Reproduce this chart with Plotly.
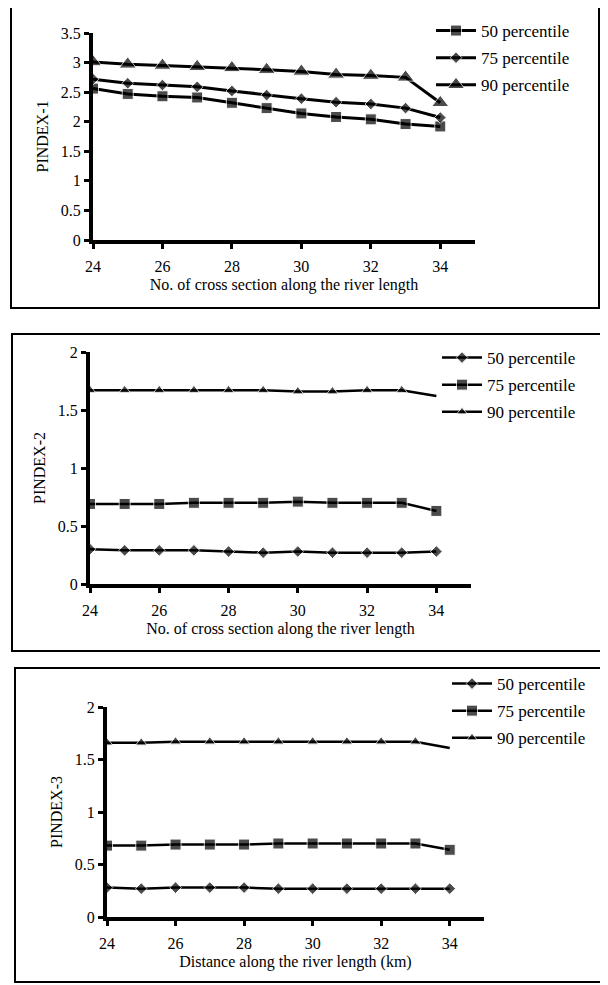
import plotly.graph_objects as go

x_sections = [24, 25, 26, 27, 28, 29, 30, 31, 32, 33, 34]
series_names = ["50 percentile", "75 percentile", "90 percentile"]

# Panel 1 : PINDEX-1
p1_50 = [2.56, 2.47, 2.43, 2.41, 2.32, 2.23, 2.14, 2.08, 2.04, 1.96, 1.92]
p1_75 = [2.72, 2.65, 2.62, 2.59, 2.52, 2.45, 2.39, 2.33, 2.30, 2.23, 2.07]
p1_90 = [3.01, 2.97, 2.95, 2.93, 2.91, 2.88, 2.85, 2.80, 2.78, 2.75, 2.32]

# Panel 2 : PINDEX-2
p2_50 = [0.30, 0.29, 0.29, 0.29, 0.28, 0.27, 0.28, 0.27, 0.27, 0.27, 0.28]
p2_75 = [0.69, 0.69, 0.69, 0.70, 0.70, 0.70, 0.71, 0.70, 0.70, 0.70, 0.63]
p2_90 = [1.67, 1.67, 1.67, 1.67, 1.67, 1.67, 1.66, 1.66, 1.67, 1.67, 1.62]

# Panel 3 : PINDEX-3
p3_50 = [0.28, 0.27, 0.28, 0.28, 0.28, 0.27, 0.27, 0.27, 0.27, 0.27, 0.27]
p3_75 = [0.68, 0.68, 0.69, 0.69, 0.69, 0.70, 0.70, 0.70, 0.70, 0.70, 0.64]
p3_90 = [1.66, 1.66, 1.67, 1.67, 1.67, 1.67, 1.67, 1.67, 1.67, 1.67, 1.61]

y_titles = ["PINDEX-1", "PINDEX-2", "PINDEX-3"]
x_titles = ["No. of cross section along the river length",
            "No. of cross section along the river length",
            "Distance along the river length (km)"]

W, H = 608, 985
OFF = 8  # default page body margin
FONT = "Liberation Serif, Times New Roman, serif"

def px(v):
    return (v - OFF) / W

def py(v):
    return 1 - (v - OFF) / H

fig = go.Figure()

# panel geometry in page pixels
panels = [
    dict(x0=93, x1=475, ytop=33, ybot=240, ymax=3.5, box=(11, 5, 599, 308),
         leg=(431, 13)),
    dict(x0=90, x1=471, ytop=352, ybot=584, ymax=2.0, box=(12, 334, 604, 651),
         leg=(437, 340)),
    dict(x0=107, x1=484, ytop=707, ybot=917, ymax=2.0, box=(15, 668, 604, 982),
         leg=(447, 666)),
]

data = [
    [(p1_50, "square", 11, 3), (p1_75, "diamond", 9, 3), (p1_90, "triangle-up", 15, 3)],
    [(p2_50, "diamond", 9, 2.5), (p2_75, "square", 11, 2.5), (p2_90, "triangle-up", 10, 2.5)],
    [(p3_50, "diamond", 9, 2.5), (p3_75, "square", 11, 2.5), (p3_90, "triangle-up", 10, 2.5)],
]

for i, (pan, dset) in enumerate(zip(panels, data)):
    n = i + 1
    xa = "x" if n == 1 else f"x{n}"
    ya = "y" if n == 1 else f"y{n}"
    leg = "legend" if n == 1 else f"legend{n}"
    for j, (vals, sym, size, lw) in enumerate(dset):
        sizes = [size] * len(vals)
        if i > 0 and j == 2:
            sizes[-1] = 0
        fig.add_trace(go.Scatter(
            x=x_sections, y=vals, name=series_names[j],
            mode="lines+markers",
            line=dict(color="black", width=lw),
            marker=dict(symbol=sym, size=sizes, color="black"),
            xaxis=xa, yaxis=ya, legend=leg,
            legendgroup=f"g{n}{j}", showlegend=True,
        ))

layout = dict(
    width=W, height=H,
    margin=dict(l=0, r=0, t=0, b=0, autoexpand=False),
    paper_bgcolor="white", plot_bgcolor="white",
    font=dict(family=FONT, size=16, color="black"),
    showlegend=True,
)

shapes = []
for i, pan in enumerate(panels):
    n = i + 1
    xk = "xaxis" if n == 1 else f"xaxis{n}"
    yk = "yaxis" if n == 1 else f"yaxis{n}"
    ya = "y" if n == 1 else f"y{n}"
    xa = "x" if n == 1 else f"x{n}"
    layout[xk] = dict(
        domain=[px(pan["x0"]), px(pan["x1"])], anchor=ya,
        range=[24, 35], tickvals=[24, 26, 28, 30, 32, 34],
        showline=True, linecolor="black", linewidth=4,
        ticks="outside", ticklen=5, tickwidth=3, tickcolor="black",
        showgrid=False, zeroline=False, automargin=False,
        tickfont=dict(family=FONT, size=16),
        ticklabelstandoff=4,
        title=dict(text=x_titles[i], font=dict(family=FONT, size=16), standoff=6),
    )
    layout[yk] = dict(
        domain=[py(pan["ybot"]), py(pan["ytop"])], anchor=xa,
        range=[0, pan["ymax"]], dtick=0.5,
        showline=True, linecolor="black", linewidth=4,
        ticks="outside", ticklen=5, tickwidth=3, tickcolor="black",
        showgrid=False, zeroline=False, automargin=False,
        tickfont=dict(family=FONT, size=16),
        title=dict(text=y_titles[i], font=dict(family=FONT, size=16), standoff=9),
    )
    lk = "legend" if n == 1 else f"legend{n}"
    layout[lk] = dict(
        x=px(pan["leg"][0]), y=py(pan["leg"][1]),
        xanchor="left", yanchor="top",
        bgcolor="rgba(0,0,0,0)", borderwidth=0,
        font=dict(family=FONT, size=17, color="black"),
        traceorder="grouped", tracegroupgap=2, itemwidth=40,
    )
    bx0, by0, bx1, by1 = pan["box"]
    shapes.append(dict(type="rect", xref="paper", yref="paper",
                       x0=px(bx0), x1=px(bx1), y0=py(by1), y1=py(by0),
                       line=dict(color="black", width=2), fillcolor="rgba(0,0,0,0)"))

layout["shapes"] = shapes
fig.update_layout(**layout)
fig.write_html("out.html")
